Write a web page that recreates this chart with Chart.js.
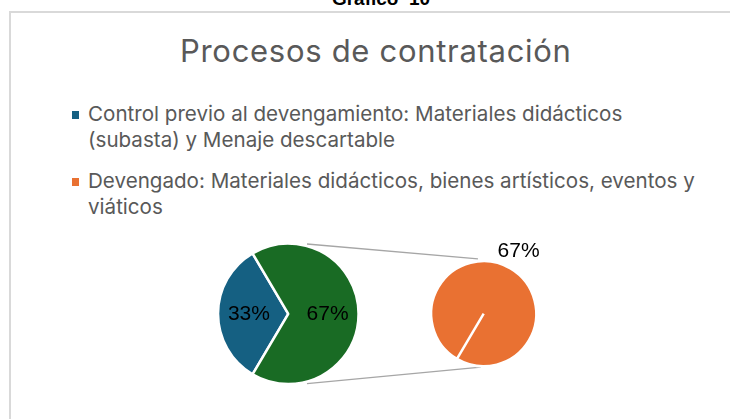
<!DOCTYPE html>
<html><head><meta charset="utf-8">
<style>
html,body{margin:0;padding:0;background:#fff;}
#wrap{position:relative;width:730px;height:419px;overflow:hidden;background:#fff;}
#frame{position:absolute;left:9px;top:11px;width:800px;height:500px;border-left:2px solid #d9d9d9;border-top:2px solid #d9d9d9;box-sizing:border-box;}
#fig{position:absolute;left:231px;width:300px;top:-11px;text-align:center;font:bold 19px "Liberation Sans";line-height:19px;white-space:pre;color:#000;}
#title{position:absolute;left:180px;top:35.2px;font:31px Inter;line-height:31px;letter-spacing:0.7px;color:#595959;white-space:nowrap;}
#legend{position:absolute;left:0;top:101.2px;width:730px;}
.item{position:relative;margin-bottom:15.3px;}
.mk{position:absolute;left:71.7px;top:9.8px;width:7.6px;height:7.6px;}
.tx{margin-left:88px;width:615px;font:20.6px Inter;line-height:26px;color:#595959;}
canvas{position:absolute;left:0;top:0;pointer-events:none;}
</style></head>
<body>
<div id="wrap">
  <div id="fig">Gráfico  10</div>
  <div id="frame"></div>
  <div id="title">Procesos de contratación</div>
  <div id="legend"></div>
  <canvas id="main" width="730" height="419"></canvas>
  <canvas id="sec" width="730" height="419"></canvas>
</div>
<script src="https://cdn.jsdelivr.net/npm/chart.js@4"></script>
<script>
// ---- data ----
const categories = [
  'Control previo al devengamiento: Materiales didácticos (subasta) y Menaje descartable',
  'Devengado: Materiales didácticos, bienes artísticos, eventos y viáticos'
];
const values = [33, 67];              // percentages shown on the chart
const seriesColors = ['#156082', '#E97132'];
const otherLabel = 'Otros';
const otherColor = '#196B24';
const secondaryIndex = [1];           // points moved to the secondary pie

// ---- legend (HTML) ----
const legendEl = document.getElementById('legend');
categories.forEach((c, i) => {
  const it = document.createElement('div'); it.className = 'item';
  const mk = document.createElement('div'); mk.className = 'mk'; mk.style.background = seriesColors[i];
  const tx = document.createElement('div'); tx.className = 'tx'; tx.textContent = c;
  it.appendChild(mk); it.appendChild(tx); legendEl.appendChild(it);
});

const total = values.reduce((a, b) => a + b, 0);
const pct = v => Math.round(v / total * 100) + '%';
const mainIdx = values.map((v, i) => i).filter(i => !secondaryIndex.includes(i));
const otherValue = secondaryIndex.reduce((s, i) => s + values[i], 0);
const mainData = mainIdx.map(i => values[i]).concat([otherValue]);
const mainColors = mainIdx.map(i => seriesColors[i]).concat([otherColor]);
const mainLabels = mainIdx.map(i => categories[i]).concat([otherLabel]);
const rotationDeg = 270 - (mainData[0] / total) * 180;

const BW = 2.5;
const labelFont = '21px "Liberation Sans"';

// ---- secondary pie ----
const secPlugin = {
  id: 'secLabels',
  afterDatasetsDraw(chart) {
    const ctx = chart.ctx;
    const meta = chart.getDatasetMeta(0);
    ctx.save();
    ctx.font = labelFont; ctx.fillStyle = '#000';
    ctx.textAlign = 'center'; ctx.textBaseline = 'middle';
    meta.data.forEach((arc, k) => {
      const mid = (arc.startAngle + arc.endAngle) / 2;
      const d = arc.outerRadius + 20;
      ctx.fillText(pct(chart.data.datasets[0].data[k]), arc.x + d * Math.cos(mid) - 2, arc.y + d * Math.sin(mid));
    });
    ctx.restore();
  }
};
const secChart = new Chart(document.getElementById('sec'), {
  type: 'pie',
  data: {
    labels: secondaryIndex.map(i => categories[i]),
    datasets: [{
      data: secondaryIndex.map(i => values[i]),
      backgroundColor: secondaryIndex.map(i => seriesColors[i]),
      borderColor: '#ffffff', borderWidth: BW, hoverOffset: 0
    }]
  },
  options: {
    responsive: false, animation: false, events: [],
    rotation: rotationDeg,
    layout: { padding: { left: 429.9, right: 192.5, top: 259.9, bottom: 51.5 } },
    plugins: { legend: { display: false }, tooltip: { enabled: false } }
  },
  plugins: [secPlugin]
});

// ---- main pie ----
const mainPlugin = {
  id: 'mainExtras',
  afterDatasetsDraw(chart) {
    const ctx = chart.ctx;
    const meta = chart.getDatasetMeta(0);
    ctx.save();
    // connector lines to the secondary pie
    const a0 = meta.data[0];
    const s0 = secChart.getDatasetMeta(0).data[0];
    const deg = Math.PI / 180;
    const P = (arc, ang, extra) => [arc.x + (arc.outerRadius + extra) * Math.cos(ang * deg), arc.y - (arc.outerRadius + extra) * Math.sin(ang * deg)];
    const lines = [[P(a0, 75, 2), P(s0, 96, 2.5)], [P(a0, -75, 2), P(s0, -93, 1)]];
    ctx.strokeStyle = '#a6a6a6'; ctx.lineWidth = 1.3;
    lines.forEach(([p, q]) => { ctx.beginPath(); ctx.moveTo(p[0], p[1]); ctx.lineTo(q[0], q[1]); ctx.stroke(); });
    // data labels
    ctx.font = labelFont; ctx.fillStyle = '#000';
    ctx.textAlign = 'center'; ctx.textBaseline = 'middle';
    meta.data.forEach((arc, k) => {
      const mid = (arc.startAngle + arc.endAngle) / 2;
      const d = arc.outerRadius * 0.56;
      ctx.fillText(pct(mainData[k]), arc.x + d * Math.cos(mid), arc.y + d * Math.sin(mid));
    });
    ctx.restore();
  }
};
new Chart(document.getElementById('main'), {
  type: 'pie',
  data: {
    labels: mainLabels,
    datasets: [{
      data: mainData,
      backgroundColor: mainColors,
      borderColor: '#ffffff', borderWidth: BW, hoverOffset: 0
    }]
  },
  options: {
    responsive: false, animation: false, events: [],
    rotation: rotationDeg,
    layout: { padding: { left: 216.8, right: 370.2, top: 242.3, bottom: 33.7 } },
    plugins: { legend: { display: false }, tooltip: { enabled: false } }
  },
  plugins: [mainPlugin]
});
</script>
</body></html>
